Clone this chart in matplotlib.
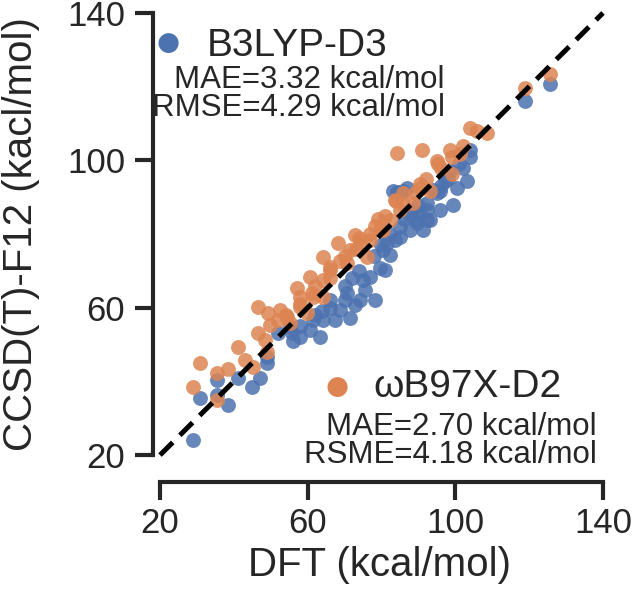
import matplotlib
matplotlib.use("Agg")
import matplotlib.pyplot as plt

plt.rcParams['font.family'] = ['Liberation Sans', 'DejaVu Sans']

# -------------------------------
# Data
# -------------------------------

b3lyp_dft = [28.9, 30.8, 35.4, 38.4, 35.4, 41.1, 44.9, 47.1, 49.0, 49.0,
             52.0, 55.8, 60.7, 61.5, 55.2, 64.2, 66.1, 70.7, 74.2, 75.0,
             76.9, 79.6, 80.4, 85.0, 89.6, 91.3, 93.2, 90.5, 84.2, 86.9,
             95.1, 92.4, 104.0, 102.1, 103.2, 100.5, 99.4, 95.9, 92.4, 92.4,
             89.6, 87.8, 85.0, 83.1, 85.9, 81.5, 118.9, 125.7, 57.9, 68.8,
             72.8, 84.2, 63.4, 67.4, 71.5, 70.1, 75.6, 78.3, 82.3, 81.0,
             83.7, 87.8, 95.9, 97.2, 98.6,
             58.0, 62.0, 66.0, 70.0, 74.0, 78.0, 82.0, 86.0, 90.0, 94.0,
             98.0, 101.0, 104.0, 56.0, 64.0, 72.0, 80.0, 88.0, 96.0]
b3lyp_cc = [24.1, 35.4, 36.3, 33.6, 40.3, 40.9, 38.4, 40.9, 44.9, 46.6,
            53.1, 53.1, 53.9, 56.6, 54.7, 56.6, 62.0, 63.9, 62.0, 67.4,
            68.2, 70.9, 75.6, 81.8, 82.9, 81.0, 83.7, 85.6, 91.0, 92.6,
            91.0, 88.3, 102.7, 98.0, 94.5, 92.6, 87.8, 91.8, 86.4, 83.7,
            83.7, 81.0, 79.1, 91.8, 91.8, 77.5, 116.2, 120.8, 52.0, 59.3,
            60.7, 91.3, 52.0, 56.6, 57.1, 62.0, 64.7, 62.0, 74.2, 70.1,
            78.3, 85.0, 86.4, 94.5, 97.2,
            55.0, 58.0, 60.0, 66.0, 70.0, 74.0, 80.0, 84.0, 88.0, 92.0,
            95.0, 99.0, 101.0, 51.0, 59.0, 68.0, 77.0, 86.0, 93.0]

wb97_dft = [28.9, 30.8, 35.4, 38.4, 35.4, 41.1, 43.0, 45.2, 46.6, 48.5,
            49.0, 46.6, 49.3, 52.0, 55.2, 57.1, 57.9, 59.8, 61.2, 54.4,
            60.7, 64.2, 64.2, 68.2, 68.8, 70.7, 74.2, 76.1, 79.6, 82.3,
            83.7, 85.9, 88.6, 90.5, 61.5, 64.2, 104.0, 108.6, 84.2, 91.0,
            98.6, 101.3, 95.3, 99.1, 90.5, 93.2, 85.0, 80.4, 118.9, 125.7,
            95.1, 66.1, 71.5, 72.8, 76.9, 78.3, 57.9, 52.5, 49.8,
            62.0, 66.0, 70.0, 73.0, 77.0, 81.0, 86.0, 89.0, 92.0, 96.0,
            99.0, 58.0, 54.0, 66.0, 74.0, 79.0, 84.0, 102.0, 106.0]
wb97_cc = [38.4, 44.9, 42.2, 43.3, 34.9, 49.3, 45.7, 43.8, 53.1, 51.2,
           47.9, 60.1, 58.5, 56.6, 55.8, 65.3, 60.1, 58.5, 63.9, 57.4,
           68.2, 67.4, 73.7, 77.5, 72.8, 72.0, 77.5, 73.7, 81.0, 83.7,
           89.1, 91.0, 88.3, 92.6, 62.8, 62.8, 108.9, 107.3, 102.1, 102.9,
           102.7, 101.8, 99.1, 96.4, 93.7, 91.8, 86.4, 81.0, 119.7, 123.5,
           99.9, 70.1, 75.6, 79.6, 78.3, 82.3, 62.8, 59.3, 55.2,
           66.0, 68.0, 74.0, 76.0, 80.0, 85.0, 88.0, 91.0, 95.0, 98.0,
           101.0, 61.0, 58.0, 71.0, 79.0, 84.0, 89.0, 104.0, 108.0]

diag = [20, 140]
ticks = [20, 60, 100, 140]

blue = '#4C72B0'
orange = '#DD8452'
dark = '#262626'

# -------------------------------
# Figure
# -------------------------------

fig = plt.figure(figsize=(6.33, 5.90), dpi=100)
ax = fig.add_axes([0.2417, 0.1831, 0.7167, 0.8012])

ax.scatter(b3lyp_dft, b3lyp_cc, s=115, color=blue, alpha=0.85, lw=0, zorder=2)
ax.scatter(wb97_dft, wb97_cc, s=115, color=orange, alpha=0.85, lw=0, zorder=3)
ax.plot(diag, diag, color='black', lw=3.6, ls=(0, (3.6, 2.0)), zorder=4)

ax.set_xlim(18.1, 141)
ax.set_ylim(12.7, 141)
ax.set_xticks(ticks)
ax.set_yticks(ticks)

# trimmed spines
for side in ['top', 'right']:
    ax.spines[side].set_visible(False)
ax.spines['bottom'].set_bounds(ticks[0], ticks[-1])
ax.spines['left'].set_bounds(ticks[0], ticks[-1])
for side in ['bottom', 'left']:
    ax.spines[side].set_linewidth(3)
    ax.spines[side].set_color(dark)

ax.tick_params(axis='both', length=13, width=3, color=dark,
               labelsize=25, labelcolor=dark)
ax.tick_params(axis='x', pad=5)
ax.tick_params(axis='y', pad=7)

ax.set_xlabel('DFT (kcal/mol)', fontsize=29, color=dark, labelpad=4)
ax.set_ylabel('CCSD(T)-F12 (kacl/mol)', fontsize=29, color=dark)
ax.yaxis.set_label_coords(-0.25, 0.525)

# labels in the corners
ax.text(22.2, 131.9, '\u25cf', color=blue, fontsize=19, ha='center', va='center',
        family='DejaVu Sans')
ax.text(32.7, 128.4, 'B3LYP-D3', fontsize=28, color=dark, va='baseline')
ax.text(97.2, 119.7, 'MAE=3.32 kcal/mol', fontsize=22.5, color=dark,
        ha='right', va='baseline')
ax.text(97.2, 112.1, 'RMSE=4.29 kcal/mol', fontsize=22.5, color=dark,
        ha='right', va='baseline')

ax.text(68.0, 38.4, '\u25cf', color=orange, fontsize=19, ha='center', va='center',
        family='DejaVu Sans')
ax.text(77.7, 35.7, '\u03c9B97X-D2', fontsize=28, color=dark, va='baseline')
ax.text(138.4, 25.4, 'MAE=2.70 kcal/mol', fontsize=22.5, color=dark,
        ha='right', va='baseline')
ax.text(138.4, 17.8, 'RSME=4.18 kcal/mol', fontsize=22.5, color=dark,
        ha='right', va='baseline')

plt.savefig("out.png", dpi=100)
